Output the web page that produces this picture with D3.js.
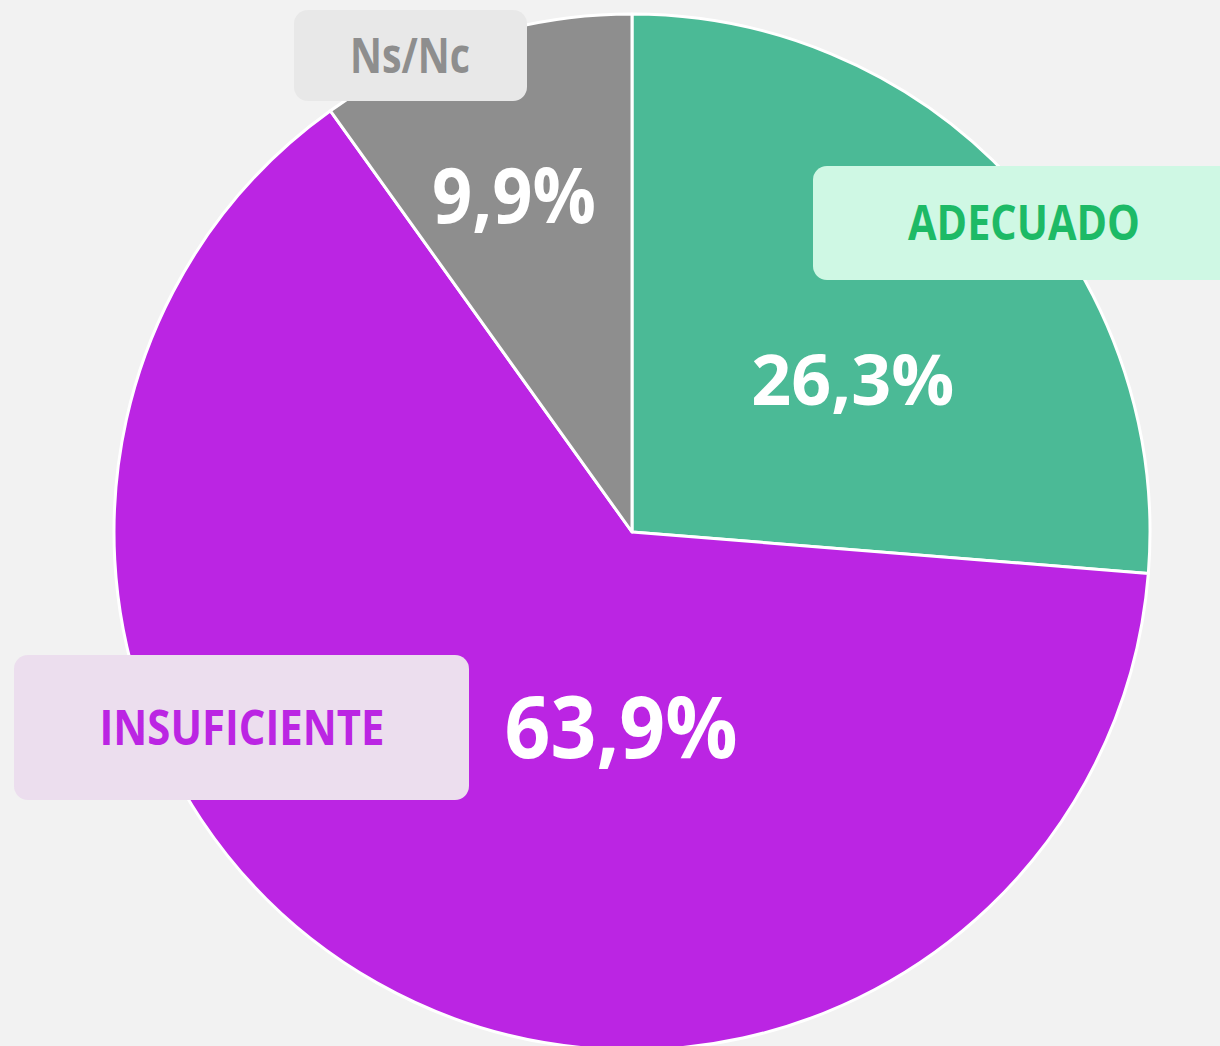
<!DOCTYPE html>
<html>
<head>
<meta charset="utf-8">
<script src="https://cdn.jsdelivr.net/npm/d3@7"></script>
<style>
  html, body { margin: 0; padding: 0; background: #f2f2f2; }
  svg { display: block; font-family: "Open Sans", "Noto Sans", sans-serif; }
</style>
</head>
<body>
<svg id="chart" width="1220" height="1046"></svg>
<script>
// data
var categories = ["ADECUADO", "INSUFICIENTE", "Ns/Nc"];
var values = [26.3, 63.9, 9.9];
var valueLabels = ["26,3%", "63,9%", "9,9%"];

var colors = ["#4bba96", "#bb25e3", "#8e8e8e"];
var tagFill = ["#cff8e4", "#ecdeee", "#e8e8e8"];
var tagText = ["#1dba66", "#bb25e3", "#8e8e8e"];

// label placement (polar, degrees clockwise from top; radius px) and tag boxes
var pctPlace = [
  {a: 55.5, r: 268, size: 70, w: 203},
  {a: 183.2, r: 195, size: 86, w: 233},
  {a: 340.7, r: 357, size: 77, w: 164}
];
var tagBox = [
  {x: 813, y: 166, w: 420, h: 114, tx: 1024, tw: 232},
  {x: 14, y: 655, w: 455, h: 145, tx: 242, tw: 285},
  {x: 294, y: 10, w: 233, h: 91, tx: 410, tw: 120}
];

var svg = d3.select("#chart"),
    width = +svg.attr("width"),
    height = +svg.attr("height");

var cx = 632, cy = 532, radius = 518;

var data = categories.map(function(c, i) {
  return {name: c, value: values[i], label: valueLabels[i], i: i};
});

var pie = d3.pie().sort(null).value(function(d) { return d.value; });
var arc = d3.arc().innerRadius(0).outerRadius(radius);

var g = svg.append("g")
  .attr("transform", "translate(" + cx + "," + cy + ")");

g.selectAll(".slice")
  .data(pie(data))
  .enter().append("path")
    .attr("class", "slice")
    .attr("d", arc)
    .attr("fill", function(d) { return colors[d.data.i]; })
    .attr("stroke", "#ffffff")
    .attr("stroke-width", 3)
    .attr("stroke-linejoin", "round");

// percentages
g.selectAll(".pct")
  .data(data)
  .enter().append("text")
    .attr("class", "pct")
    .attr("x", function(d) { var p = pctPlace[d.i]; return p.r * Math.sin(p.a * Math.PI / 180); })
    .attr("y", function(d) { var p = pctPlace[d.i]; return -p.r * Math.cos(p.a * Math.PI / 180) + p.size * 0.36; })
    .attr("text-anchor", "middle")
    .attr("fill", "#ffffff")
    .attr("font-weight", 700)
    .attr("font-size", function(d) { return pctPlace[d.i].size; })
    .attr("textLength", function(d) { return pctPlace[d.i].w; })
    .attr("lengthAdjust", "spacingAndGlyphs")
    .text(function(d) { return d.label; });

// category tags
var tags = svg.selectAll(".tag")
  .data(data)
  .enter().append("g")
    .attr("class", "tag");

tags.append("rect")
    .attr("x", function(d) { return tagBox[d.i].x; })
    .attr("y", function(d) { return tagBox[d.i].y; })
    .attr("width", function(d) { return tagBox[d.i].w; })
    .attr("height", function(d) { return tagBox[d.i].h; })
    .attr("rx", 14)
    .attr("fill", function(d) { return tagFill[d.i]; });

tags.append("text")
    .attr("x", function(d) { return tagBox[d.i].tx; })
    .attr("y", function(d) { return tagBox[d.i].y + tagBox[d.i].h / 2 + 17; })
    .attr("text-anchor", "middle")
    .attr("fill", function(d) { return tagText[d.i]; })
    .attr("font-weight", 700)
    .attr("font-size", 49)
    .attr("textLength", function(d) { return tagBox[d.i].tw; })
    .attr("lengthAdjust", "spacingAndGlyphs")
    .text(function(d) { return d.name; });
</script>
</body>
</html>
